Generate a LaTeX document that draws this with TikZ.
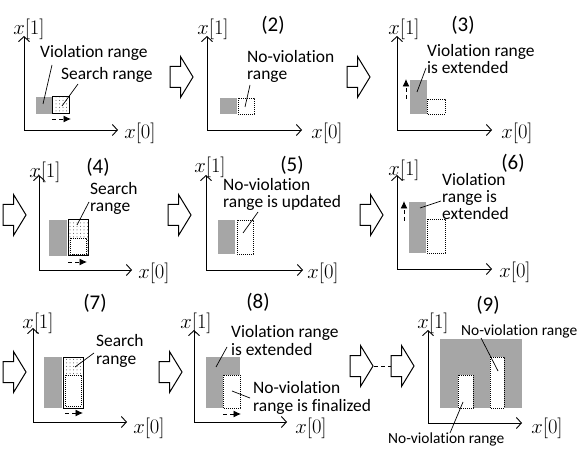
\documentclass[tikz,border=0pt]{standalone}
\usepackage{fontspec}
\setmainfont{Carlito}[Ligatures={NoCommon}]
\usetikzlibrary{arrows.meta,patterns.meta}
\definecolor{vgray}{RGB}{166,166,166}
\tikzset{
  axis/.style={draw, line width=0.9bp, -{Straight Barb[length=5bp,width=11bp,line width=0.9bp]}},
  viol/.style={fill=vgray, draw=none},
  nov/.style={draw, fill=white, line width=0.6bp, dash pattern=on 1bp off 1bp},
  srch/.style={draw, line width=1bp, pattern={Dots[radius=0.5bp,distance=3.5bp]}, pattern color=black!70},
  lead/.style={draw, line width=0.7bp},
  darr/.style={draw, line width=0.9bp, dash pattern=on 4bp off 3bp, -{Latex[length=7.5bp,width=7bp]}},
  lbl/.style={anchor=base west, inner sep=0pt, align=left, font=\fontsize{17.5}{17.5}\selectfont},
  slbl/.style={anchor=base west, inner sep=0pt, font=\fontsize{15.5}{14}\selectfont},
  num/.style={inner sep=0pt, font=\fontsize{21}{21}\selectfont},
  ml/.style={inner sep=0pt, font=\fontsize{22}{22}\selectfont},
  barr/.pic={\draw[line width=1bp, fill=white] (0,-10.5) -- (10.5,-10.5) -- (10.5,-20.5) -- (23,0) -- (10.5,20.5) -- (10.5,10.5) -- (0,10.5) -- cycle;}
}
\begin{document}
\begin{tikzpicture}[x=1bp,y=-1bp]
\useasboundingbox (0,0) rectangle (582,454);

% ---------- Panel 1 ----------
\coordinate (o1) at (24,130);
\coordinate (t1) at (24,36);
\coordinate (r1) at (118,130);
\draw[axis] (o1) -- (t1);
\draw[axis] (o1) -- (r1);
\node[ml] (y1) at (29,29) {$x[1]$};
\node[ml] (x1) at (140,133) {$x[0]$};
\fill[viol] (36,97) rectangle (52,114);
\draw[srch] (52,97) rectangle (69,114);
\coordinate (d1a) at (52,119); \coordinate (d1b) at (71,119);
\draw[darr] (d1a) -- (d1b);
\node[lbl] (v1) at (40,58) {Violation range};
\node[lbl] (s1) at (61,80) {Search range};
\coordinate (l1a) at (43,104); \coordinate (l1b) at (52,65);
\draw[lead] (l1a) -- (l1b);
\coordinate (l2a) at (62,106); \coordinate (l2b) at (78,84);
\draw[lead] (l2a) -- (l2b);
\pic at (170,77) {barr};

% ---------- Panel 2 ----------
\coordinate (o2) at (207,130);
\coordinate (t2) at (207,36);
\coordinate (r2) at (302,130);
\draw[axis] (o2) -- (t2);
\draw[axis] (o2) -- (r2);
\node[ml] (y2) at (213,29) {$x[1]$};
\node[ml] (x2) at (327,133) {$x[0]$};
\node[num] (n2) at (273,25) {(2)};
\fill[viol] (220,98) rectangle (237,114);
\draw[nov] (238,98) rectangle (254,114);
\node[lbl] (t2a) at (247,80) {No-violation\\range};
\coordinate (l3a) at (245,107); \coordinate (l3b) at (250,85);
\draw[lead] (l3a) -- (l3b);
\pic at (347,77) {barr};

% ---------- Panel 3 ----------
\coordinate (o3) at (397,130);
\coordinate (t3) at (397,36);
\coordinate (r3) at (492,130);
\draw[axis] (o3) -- (t3);
\draw[axis] (o3) -- (r3);
\node[ml] (y3) at (404,29) {$x[1]$};
\node[ml] (x3) at (517,133) {$x[0]$};
\node[num] (n3) at (463,25) {(3)};
\fill[viol] (410,80) rectangle (427,114);
\draw[nov] (427,99) rectangle (445,114);
\coordinate (d3a) at (406,99); \coordinate (d3b) at (406,79);
\draw[darr] (d3a) -- (d3b);
\node[lbl] (t3a) at (427,74) {Violation range\\is extended};
\coordinate (l4a) at (417,92); \coordinate (l4b) at (426,68);
\draw[lead] (l4a) -- (l4b);

% ---------- Panel 4 ----------
\pic at (3,215) {barr};
\coordinate (o4) at (39,270);
\coordinate (t4) at (39,175);
\coordinate (r4) at (132,270);
\draw[axis] (o4) -- (t4);
\draw[axis] (o4) -- (r4);
\node[ml] (y4) at (45,172) {$x[1]$};
\node[ml] (x4) at (154,273) {$x[0]$};
\node[num] (n4) at (98,167) {(4)};
\fill[viol] (49,220) rectangle (67,256);
\draw[srch] (68,220) rectangle (88,256);
\draw[nov] (70,238) rectangle (86,254);
\coordinate (d4a) at (68,262); \coordinate (d4b) at (87,262);
\draw[darr] (d4a) -- (d4b);
\node[lbl] (t4a) at (90,212) {Search\\range};
\coordinate (l5a) at (77,225); \coordinate (l5b) at (89,202);
\draw[lead] (l5a) -- (l5b);
\pic at (168,215) {barr};

% ---------- Panel 5 ----------
\coordinate (o5) at (206,270);
\coordinate (t5) at (206,175);
\coordinate (r5) at (303,270);
\draw[axis] (o5) -- (t5);
\draw[axis] (o5) -- (r5);
\node[ml] (y5) at (210,167) {$x[1]$};
\node[ml] (x5) at (323,273) {$x[0]$};
\node[num] (n5) at (292,165) {(5)};
\fill[viol] (218,220) rectangle (235,254);
\draw[nov] (237,220) rectangle (253,254);
\node[lbl] (t5a) at (223,208) {No-violation\\range is updated};
\coordinate (l6a) at (243,233); \coordinate (l6b) at (258,212);
\draw[lead] (l6a) -- (l6b);
\pic at (360,215) {barr};

% ---------- Panel 6 ----------
\coordinate (o6) at (397,269);
\coordinate (t6) at (397,175);
\coordinate (r6) at (492,269);
\draw[axis] (o6) -- (t6);
\draw[axis] (o6) -- (r6);
\node[ml] (y6) at (404,170) {$x[1]$};
\node[ml] (x6) at (515,272) {$x[0]$};
\node[num] (n6) at (513,163) {(6)};
\fill[viol] (409,202) rectangle (426,253);
\draw[nov] (427,219) rectangle (445,253);
\coordinate (d6a) at (404,221); \coordinate (d6b) at (404,201);
\draw[darr] (d6a) -- (d6b);
\node[lbl] (t6a) at (442,220) {Violation\\range is\\extended};
\coordinate (l7a) at (420,208); \coordinate (l7b) at (441,201);
\draw[lead] (l7a) -- (l7b);

% ---------- Panel 7 ----------
\pic at (3,372) {barr};
\coordinate (o7) at (33,422);
\coordinate (t7) at (33,328);
\coordinate (r7) at (127,422);
\draw[axis] (o7) -- (t7);
\draw[axis] (o7) -- (r7);
\node[ml] (y7) at (38,323) {$x[1]$};
\node[ml] (x7) at (149,428) {$x[0]$};
\node[num] (n7) at (95,303) {(7)};
\fill[viol] (44,357) rectangle (62,408);
\draw[srch] (63,357) rectangle (83,408);
\draw[nov] (65,375) rectangle (81,406);
\coordinate (d7a) at (65,413); \coordinate (d7b) at (83,413);
\draw[darr] (d7a) -- (d7b);
\node[lbl] (t7a) at (96,364) {Search\\range};
\coordinate (l8a) at (75,367); \coordinate (l8b) at (94,353);
\draw[lead] (l8a) -- (l8b);
\pic at (159,372) {barr};

% ---------- Panel 8 ----------
\coordinate (o8) at (194,422);
\coordinate (t8) at (194,330);
\coordinate (r8) at (287,422);
\draw[axis] (o8) -- (t8);
\draw[axis] (o8) -- (r8);
\node[ml] (y8) at (196,323) {$x[1]$};
\node[ml] (x8) at (311,428) {$x[0]$};
\node[num] (n8) at (258,302) {(8)};
\fill[viol] (206,357) rectangle (240,408);
\draw[nov] (223,375) rectangle (240,408);
\coordinate (d8a) at (223,414); \coordinate (d8b) at (241,414);
\draw[darr] (d8a) -- (d8b);
\node[lbl] (t8a) at (231,355) {Violation range\\is extended};
\coordinate (l9a) at (216,367); \coordinate (l9b) at (227,347);
\draw[lead] (l9a) -- (l9b);
\node[lbl] (t8c) at (253,411) {No-violation\\range is finalized};
\coordinate (l10a) at (232,391); \coordinate (l10b) at (250,398);
\draw[lead] (l10a) -- (l10b);
\pic at (350,366) {barr};
\coordinate (g1) at (374,366); \coordinate (g2) at (391,366);
\draw[line width=0.9bp, dash pattern=on 4bp off 3bp] (g1) -- (g2);
\pic at (391,366) {barr};

% ---------- Panel 9 ----------
\coordinate (o9) at (428,423);
\coordinate (t9) at (428,330);
\coordinate (r9) at (522,423);
\fill[viol] (440,339) rectangle (522,408);
\draw[nov] (458,375) rectangle (473,408);
\draw[nov] (490,357) rectangle (504,408);
\draw[axis] (o9) -- (t9);
\draw[axis] (o9) -- (r9);
\node[ml] (y9) at (433,323) {$x[1]$};
\node[ml] (x9) at (547,428) {$x[0]$};
\node[num] (n9) at (488,305) {(9)};
\node[slbl] (t9a) at (461,335) {No-violation range};
\node[slbl] (t9b) at (388,443) {No-violation range};
\coordinate (l11a) at (498,371); \coordinate (l11b) at (481,338);
\draw[lead] (l11a) -- (l11b);
\coordinate (l12a) at (463,402); \coordinate (l12b) at (450,433);
\draw[lead] (l12a) -- (l12b);
\end{tikzpicture}
\end{document}
